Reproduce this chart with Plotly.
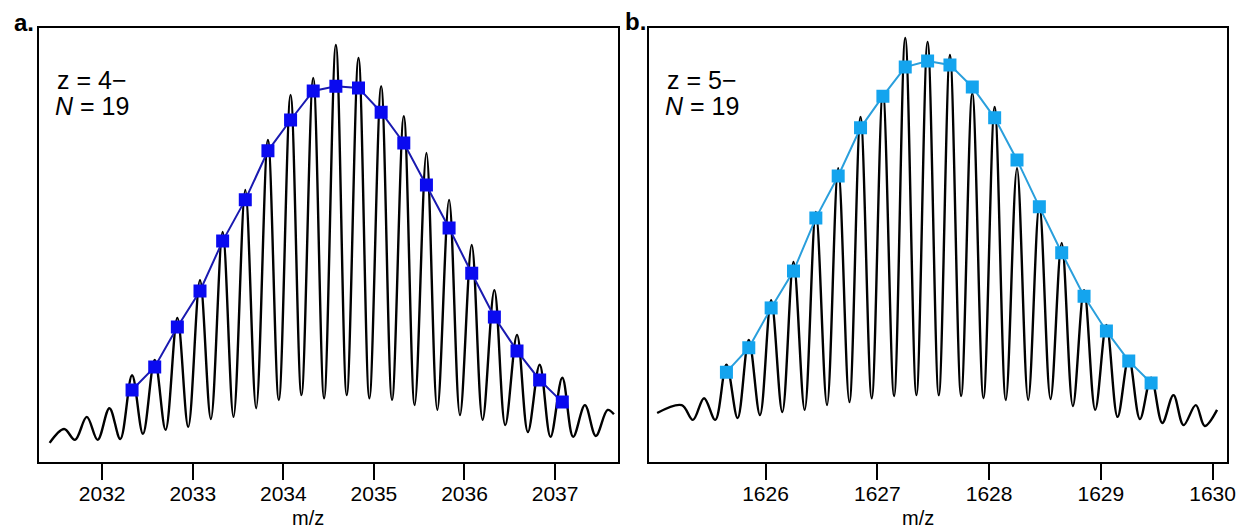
import plotly.graph_objects as go

# ---------------- Panel a (z = 4-) ----------------
spec_a_mz = [2031.42, 2031.58, 2031.70, 2031.83, 2031.95, 2032.08, 2032.20,
             2032.33, 2032.45, 2032.58, 2032.70, 2032.83, 2032.95, 2033.08, 2033.20,
             2033.33, 2033.45, 2033.58, 2033.70, 2033.83, 2033.95, 2034.08, 2034.20,
             2034.33, 2034.45, 2034.58, 2034.70, 2034.83, 2034.95, 2035.08, 2035.20,
             2035.33, 2035.45, 2035.58, 2035.70, 2035.83, 2035.95, 2036.08, 2036.20,
             2036.33, 2036.45, 2036.58, 2036.70, 2036.83, 2036.95, 2037.08, 2037.20,
             2037.33, 2037.45, 2037.58, 2037.65]
spec_a_int = [4.4, 7.6, 5.1, 10.4, 5.1, 12.4, 5.3,
              20.0, 6.5, 23.5, 7.4, 33.2, 8.1, 41.9, 9.9,
              53.0, 10.4, 62.7, 12.4, 74.2, 14.3, 84.6, 15.4,
              88.5, 14.7, 96.1, 15.4, 93.1, 14.7, 86.6, 14.3,
              79.7, 13.1, 71.2, 12.0, 60.4, 10.8, 50.0, 9.7,
              39.6, 8.5, 29.3, 6.9, 22.4, 5.8, 19.4, 5.8,
              13.1, 6.0, 12.0, 11.0]

fit_a_mz = [2032.33, 2032.58, 2032.83, 2033.08, 2033.33, 2033.58, 2033.83, 2034.08,
            2034.33, 2034.58, 2034.83, 2035.08, 2035.33, 2035.58, 2035.83, 2036.08,
            2036.33, 2036.58, 2036.83, 2037.08]
fit_a_int = [16.6, 21.9, 31.1, 39.4, 50.9, 60.4, 71.7, 78.8, 85.5, 86.6,
             86.2, 80.6, 73.5, 63.8, 53.9, 43.5, 33.4, 25.6, 18.9, 13.8]

ticks_a = [2032, 2033, 2034, 2035, 2036, 2037]

# ---------------- Panel b (z = 5-) ----------------
spec_b_mz = [1625.03, 1625.25, 1625.35, 1625.45, 1625.55,
             1625.65, 1625.75, 1625.85, 1625.95, 1626.05, 1626.15, 1626.25, 1626.35,
             1626.45, 1626.55, 1626.65, 1626.75, 1626.85, 1626.95, 1627.05, 1627.15,
             1627.25, 1627.35, 1627.45, 1627.55, 1627.65, 1627.75, 1627.85, 1627.95,
             1628.05, 1628.15, 1628.25, 1628.35, 1628.45, 1628.55, 1628.65, 1628.75,
             1628.85, 1628.95, 1629.05, 1629.15, 1629.25, 1629.35, 1629.45, 1629.55,
             1629.65, 1629.74, 1629.85, 1629.93, 1630.04]
spec_b_int = [11.3, 13.1, 9.7, 14.7, 9.7,
              22.4, 10.1, 28.1, 10.8, 37.3, 11.5, 46.1, 12.0,
              57.6, 13.1, 67.7, 13.8, 79.5, 14.7, 85.3, 15.2,
              97.7, 15.4, 96.8, 15.4, 93.8, 15.2, 85.0, 14.7,
              81.8, 14.3, 67.7, 14.3, 59.2, 14.5, 50.5, 12.9,
              39.6, 12.0, 31.6, 10.4, 24.0, 9.9, 19.4, 9.0,
              15.4, 8.5, 13.1, 8.3, 12.0]

fit_b_mz = [1625.65, 1625.85, 1626.05, 1626.25, 1626.45, 1626.65, 1626.85, 1627.05,
            1627.25, 1627.45, 1627.65, 1627.85, 1628.05, 1628.25, 1628.45, 1628.65,
            1628.85, 1629.05, 1629.25, 1629.45]
fit_b_int = [20.7, 26.3, 35.5, 44.0, 56.2, 65.9, 77.0, 84.3, 91.0, 92.4,
             91.5, 86.4, 79.3, 69.6, 58.8, 48.2, 38.2, 30.2, 23.3, 18.2]

ticks_b = [1626, 1627, 1628, 1629, 1630]

FONT = "Liberation Sans, Arial, sans-serif"
OFF = 8                      # default page body margin
W, H = 1251 - OFF, 531 - OFF

fig = go.Figure()
fig.add_trace(go.Scatter(x=spec_a_mz, y=spec_a_int, mode="lines",
                         line=dict(color="black", width=2.4, shape="spline", smoothing=1.0),
                         xaxis="x", yaxis="y", showlegend=False, hoverinfo="skip"))
fig.add_trace(go.Scatter(x=fit_a_mz, y=fit_a_int, mode="lines+markers",
                         line=dict(color="#1a1ab0", width=2),
                         marker=dict(symbol="square", size=13, color="#0a0af0"),
                         xaxis="x", yaxis="y", showlegend=False))
fig.add_trace(go.Scatter(x=spec_b_mz, y=spec_b_int, mode="lines",
                         line=dict(color="black", width=2.4, shape="spline", smoothing=1.0),
                         xaxis="x2", yaxis="y2", showlegend=False, hoverinfo="skip"))
fig.add_trace(go.Scatter(x=fit_b_mz, y=fit_b_int, mode="lines+markers",
                         line=dict(color="#2a9fdc", width=2),
                         marker=dict(symbol="square", size=13, color="#14a4ee"),
                         xaxis="x2", yaxis="y2", showlegend=False))

def px(v):
    return (v - OFF) / W

def py(v):
    return 1 - (v - OFF) / H

xcommon = dict(showline=True, linecolor="black", linewidth=2, mirror=True,
               ticks="outside", ticklen=16, tickwidth=2, tickcolor="black",
               showgrid=False, zeroline=False, ticklabelstandoff=-4,
               tickfont=dict(family=FONT, size=21, color="black"))
ycommon = dict(showline=True, linecolor="black", linewidth=2, mirror=True,
               showticklabels=False, ticks="", showgrid=False, zeroline=False,
               range=[0, 100])

fig.update_layout(
    width=W, height=H,
    margin=dict(l=0, r=0, t=0, b=0),
    paper_bgcolor="white", plot_bgcolor="white",
    xaxis=dict(domain=[px(39), px(622)], range=[2031.30, 2037.69],
               tickvals=ticks_a, ticktext=[str(t) for t in ticks_a], anchor="y", **xcommon),
    yaxis=dict(domain=[py(462), py(28)], anchor="x", **ycommon),
    xaxis2=dict(domain=[px(654), px(1236)], range=[1624.96, 1630.13],
                tickvals=ticks_b, ticktext=[str(t) for t in ticks_b], anchor="y2", **xcommon),
    yaxis2=dict(domain=[py(462), py(28)], anchor="x2", **ycommon),
    font=dict(family=FONT, color="black"),
)

ann = [
    ("<b>a.</b>", 12, 23, "left", 24),
    ("<b>b.</b>", 627, 22, "left", 24),
    ("z = 4\u2212", 55, 80, "left", 25),
    ("<i>N</i> = 19", 53, 106, "left", 25),
    ("z = 5\u2212", 670, 80, "left", 25),
    ("<i>N</i> = 19", 668, 106, "left", 25),
    ("m/z", 310, 518, "center", 20),
    ("m/z", 925, 518, "center", 20),
]
fig.update_layout(annotations=[
    dict(text=t, x=px(x), y=py(y), xanchor=xa, yanchor="middle", xref="paper", yref="paper",
         showarrow=False, font=dict(family=FONT, size=s, color="black"))
    for (t, x, y, xa, s) in ann
])

fig.write_html("out.html")
